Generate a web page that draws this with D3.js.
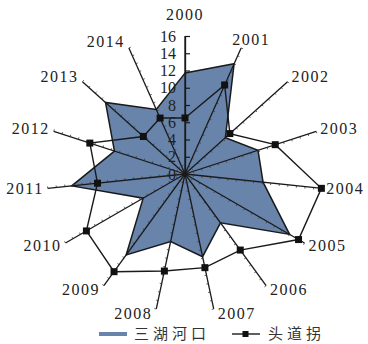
<!DOCTYPE html>
<html><head><meta charset="utf-8">
<script src="https://cdn.jsdelivr.net/npm/d3@7"></script>
<style>html,body{margin:0;padding:0;background:#fff;}svg{display:block;}
.serif{font-family:"Liberation Serif","Times New Roman","DejaVu Serif",serif;}
.cjk{font-family:"Noto Sans CJK SC","Noto Sans CJK JP",sans-serif;}
</style>
</head><body>
<svg id="c" width="368" height="344"></svg>
<script>
const years = ["2000","2001","2002","2003","2004","2005","2006","2007","2008","2009","2010","2011","2012","2013","2014"];
const sanhuhekou = [11.7, 14.0, 6.3, 8.9, 9.1, 14.0, 7.0, 9.8, 8.0, 11.6, 5.6, 13.2, 8.6, 12.4, 8.2];
const toudaoguai = [6.5, 11.3, 7.0, 11.0, 15.9, 15.2, 10.9, 11.1, 11.5, 14.0, 13.2, 10.2, 11.6, 6.5, 7.1];
const tickValues = [0, 2, 4, 6, 8, 10, 12, 14, 16];
const seriesNames = ["三湖河口", "头道拐"];

const svg = d3.select("#c");
const cx = 185, cy = 174, R = 138;
const r = d3.scaleLinear().domain([0, 16]).range([0, R]);
const n = years.length;
const ang = i => i * 2 * Math.PI / n;
const px = (i, v) => cx + r(v) * Math.sin(ang(i));
const py = (i, v) => cy - r(v) * Math.cos(ang(i));

// area
const areaPts = sanhuhekou.map((v, i) => [px(i, v), py(i, v)]);
svg.append("path")
  .attr("d", d3.line().curve(d3.curveLinearClosed)(areaPts))
  .attr("fill", "#6884ab").attr("stroke", "#1a1a1a").attr("stroke-width", 1.5)
  .attr("stroke-linejoin", "miter");

// axes
const g = svg.append("g");
years.forEach((y, i) => {
  const a = ang(i);
  g.append("line").attr("x1", cx).attr("y1", cy)
    .attr("x2", px(i, 16)).attr("y2", py(i, 16))
    .attr("stroke", "#1a1a1a").attr("stroke-width", 1.3);
  if (i === 0) return;
  d3.range(1, 17).forEach(t => {
    const x0 = px(i, t), y0 = py(i, t);
    const nx = Math.cos(a), ny = Math.sin(a);
    g.append("line").attr("x1", x0).attr("y1", y0)
      .attr("x2", x0 + nx * 2).attr("y2", y0 + ny * 2)
      .attr("stroke", "#333").attr("stroke-width", 0.8);
  });
});

// vertical value axis with labels
const yAxisScale = d3.scaleLinear().domain([0, 16]).range([cy, cy - R]);
const ax = svg.append("g").attr("transform", `translate(${cx},0)`)
  .call(d3.axisLeft(yAxisScale).tickValues(tickValues).tickSizeInner(-5).tickSizeOuter(0).tickPadding(9));
ax.attr("font-family", null).attr("font-size", null);
ax.select(".domain").attr("stroke", "#1a1a1a").attr("stroke-width", 1.3);
ax.selectAll(".tick line").attr("stroke", "#1a1a1a").attr("stroke-width", 1.2);
ax.selectAll(".tick text").attr("class", "serif").attr("font-size", 16).attr("fill", "#222").attr("x", -9);

// category labels
years.forEach((y, i) => {
  const a = ang(i);
  const s = Math.sin(a), c = Math.cos(a);
  let x = px(i, 16), yy = py(i, 16), anchor;
  if (i === 0) { anchor = "middle"; yy -= 22; }
  else if (i === 1) { anchor = "middle"; x += 10; yy -= 9; }
  else if (s > 0) { anchor = "start"; x += 4; yy += -c * 6 - 1; }
  else { anchor = "end"; x -= 4; yy += -c * 6 - 1; }
  svg.append("text").attr("class", "serif").attr("x", x).attr("y", yy).attr("dy", "0.35em")
    .attr("text-anchor", anchor).attr("font-size", 16)
    .attr("letter-spacing", 1.5).attr("fill", "#222").text(y);
});

// line series
const linePts = toudaoguai.map((v, i) => [px(i, v), py(i, v)]);
svg.append("path")
  .attr("d", d3.line().curve(d3.curveLinearClosed)(linePts))
  .attr("fill", "none").attr("stroke", "#1a1a1a").attr("stroke-width", 1.4);
svg.selectAll("rect.m").data(linePts).enter().append("rect")
  .attr("class", "m").attr("x", d => d[0] - 3.5).attr("y", d => d[1] - 3.5)
  .attr("width", 7).attr("height", 7).attr("fill", "#111");

// legend
const lg = svg.append("g");
lg.append("rect").attr("x", 99).attr("y", 332).attr("width", 28).attr("height", 4).attr("fill", "#6884ab");
lg.append("text").attr("class", "cjk").attr("x", 134).attr("y", 334).attr("dy", "0.35em")
  .attr("font-size", 15).attr("letter-spacing", 4)
  .attr("fill", "#333").text(seriesNames[0]);
lg.append("line").attr("x1", 232).attr("x2", 260).attr("y1", 334).attr("y2", 334)
  .attr("stroke", "#1a1a1a").attr("stroke-width", 1.4);
lg.append("rect").attr("x", 242.5).attr("y", 331).attr("width", 6).attr("height", 6).attr("fill", "#111");
lg.append("text").attr("class", "cjk").attr("x", 268).attr("y", 334).attr("dy", "0.35em")
  .attr("font-size", 15).attr("letter-spacing", 4)
  .attr("fill", "#333").text(seriesNames[1]);
</script>
</body></html>
